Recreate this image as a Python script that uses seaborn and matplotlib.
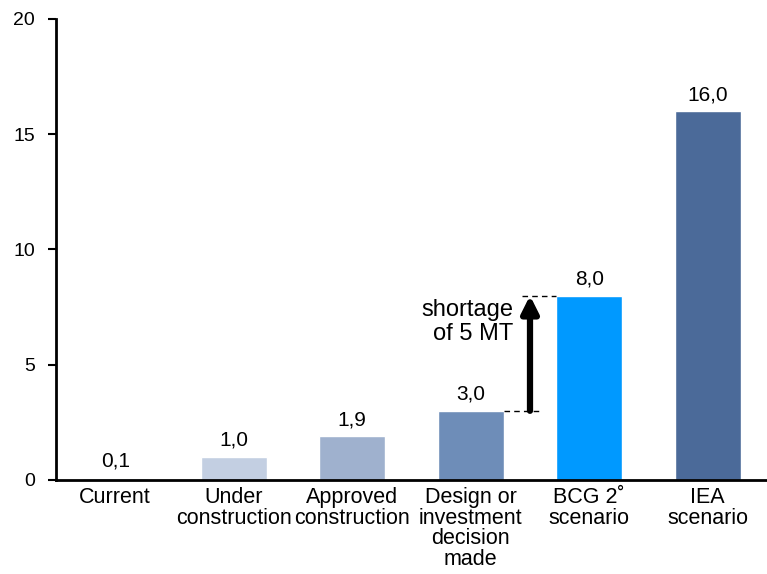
import matplotlib
matplotlib.use("Agg")
import matplotlib.pyplot as plt
import seaborn as sns
import pandas as pd

categories = ["Current", "Under\nconstruction", "Approved\nconstruction",
              "Design or\ninvestment\ndecision\nmade", "BCG 2˚\nscenario", "IEA\nscenario"]
values = [0.1, 1.0, 1.9, 3.0, 8.0, 16.0]
value_labels = ["0,1", "1,0", "1,9", "3,0", "8,0", "16,0"]
colors = ["#C3CFE2", "#C3CFE2", "#9FB1CE", "#6E8DB8", "#0099FF", "#4B6A99"]
y_ticks = [0, 5, 10, 15, 20]

sns.set_style("white")
plt.rcParams["font.family"] = ["Liberation Sans", "DejaVu Sans"]
plt.rcParams["text.color"] = "black"
plt.rcParams["xtick.color"] = "black"
plt.rcParams["ytick.color"] = "black"

fig = plt.figure(figsize=(7.67, 5.74), dpi=100)
ax = fig.add_axes([0.073, 0.1638, 0.927, 0.8032])

df = pd.DataFrame({"cat": categories, "val": values})
sns.barplot(data=df, x="cat", y="val", hue="cat", palette=colors, legend=False,
            width=0.56, saturation=1, ax=ax)

ax.set_xlim(-0.5, 5.5)
ax.set_ylim(0, 20)
ax.set_yticks(y_ticks)
ax.set_yticklabels([str(t) for t in y_ticks], fontsize=14)
ax.tick_params(axis="y", direction="out", length=6, width=1.5, color="black",
               labelcolor="black", pad=9, left=True)
ax.tick_params(axis="x", length=0, labelsize=15.5, labelcolor="black", pad=5)
for lab in ax.get_xticklabels():
    lab.set_linespacing(0.98)
ax.set_xlabel("")
ax.set_ylabel("")
for s in ["top", "right"]:
    ax.spines[s].set_visible(False)
for s in ["left", "bottom"]:
    ax.spines[s].set_color("black")
    ax.spines[s].set_linewidth(2)

for i, (v, lab) in enumerate(zip(values, value_labels)):
    ax.annotate(lab, (i, v), xytext=(0, 5), textcoords="offset points",
                ha="center", va="bottom", fontsize=15, color="black")

# shortage annotation
ax.plot([3.28, 3.58], [3.0, 3.0], ls=(0, (4, 3)), color="black", lw=1)
ax.plot([3.43, 3.72], [8.0, 8.0], ls=(0, (4, 3)), color="black", lw=1)
ax.annotate("", xy=(3.5, 8.0), xytext=(3.5, 3.0),
            arrowprops=dict(arrowstyle="-|>,head_width=0.5,head_length=1.0",
                            color="black", lw=4.5, shrinkA=0, shrinkB=0))
ax.text(3.36, 6.85, "shortage\nof 5 MT", ha="right", va="center", fontsize=17,
        color="black", linespacing=1.1)

fig.savefig("out.png", dpi=100)
